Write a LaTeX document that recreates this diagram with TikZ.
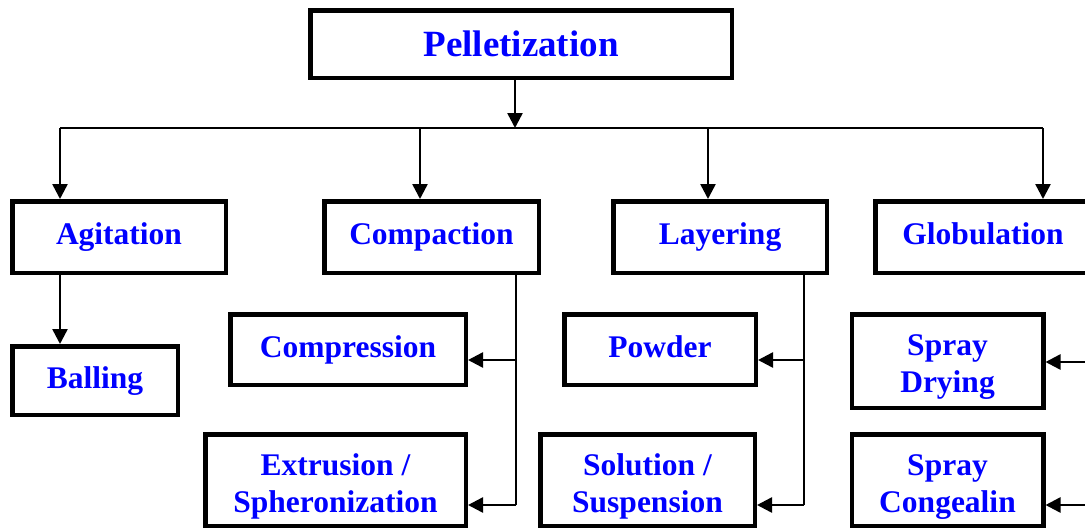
\documentclass[tikz,border=0pt]{standalone}
\usepackage{fontspec}
\setmainfont{Liberation Serif}
\usetikzlibrary{arrows.meta}
\definecolor{txtblue}{RGB}{0,0,255}
\begin{document}
\begin{tikzpicture}[x=1pt,y=-1pt,
  box/.style={draw=black, line width=4.5pt, fill=white, text=txtblue,
    font=\fontsize{31.5}{37}\selectfont\bfseries, align=center, inner sep=0pt},
  oneline/.style={text height=22pt, text depth=7pt},
  twoline/.style={text height=72pt, text depth=7pt},
  conn/.style={line width=2.5pt},
  arr/.style={conn, -{Triangle[length=15pt,width=15pt]}}]
\useasboundingbox (0,0) rectangle (1085,531);
% boxes
\node[box, minimum width=421.5pt, minimum height=67.5pt, font=\fontsize{37}{42}\selectfont\bfseries] (pel) at (521,44) {Pelletization};
\node[box, oneline, minimum width=213.5pt, minimum height=71.5pt] (agit) at (119,237) {Agitation};
\node[box, oneline, minimum width=214.5pt, minimum height=71.5pt] (comp) at (431.5,237) {Compaction};
\node[box, oneline, minimum width=213.5pt, minimum height=71.5pt] (layer) at (720,237) {Layering};
\node[box, oneline, minimum width=215.5pt, minimum height=71.5pt] (glob) at (983,237) {Globulation};
\node[box, oneline, minimum width=165.5pt, minimum height=68.5pt] (ball) at (95,380.5) {Balling};
\node[box, oneline, minimum width=235.5pt, minimum height=70.5pt] (compr) at (348,349.5) {Compression};
\node[box, twoline, minimum width=260.5pt, minimum height=91.5pt] (extr) at (335.5,480) {Extrusion /\\Spheronization};
\node[box, oneline, minimum width=191.5pt, minimum height=70.5pt] (powd) at (660,349.5) {Powder};
\node[box, twoline, minimum width=214.5pt, minimum height=91.5pt] (sol) at (647.5,480) {Solution /\\Suspension};
\node[box, twoline, text height=70pt, minimum width=191.5pt, minimum height=93.5pt] (sd) at (947.5,361) {Spray\\Drying};
\node[box, twoline, minimum width=191.5pt, minimum height=91.5pt] (sc) at (947.5,480) {Spray\\Congealin};
% trunk
\coordinate (t) at (515,128);
\coordinate (j1) at (60,128);
\coordinate (j2) at (420,128);
\coordinate (j3) at (708,128);
\coordinate (j4) at (1043,128);
\draw[arr] (pel.south -| t) -- (t);
\draw[conn] (j1) -- (j4);
\draw[arr] (j1) -- (j1 |- agit.north);
\draw[arr] (j2) -- (j2 |- comp.north);
\draw[arr] (j3) -- (j3 |- layer.north);
\draw[arr] (j4) -- (j4 |- glob.north);
% agitation
\draw[arr] (agit.south -| j1) -- (ball.north -| j1);
% compaction
\coordinate (c1) at (516,360);
\coordinate (c2) at (516,505);
\draw[conn] (comp.south -| c1) -- (c2);
\draw[arr] (c1) -- (c1 -| compr.east);
\draw[arr] (c2) -- (c2 -| extr.east);
% layering
\coordinate (l1) at (804,360);
\coordinate (l2) at (804,505);
\draw[conn] (layer.south -| l1) -- (l2);
\draw[arr] (l1) -- (l1 -| powd.east);
\draw[arr] (l2) -- (l2 -| sol.east);
% globulation
\coordinate (g1) at (1100,362);
\coordinate (g2) at (1100,505);
\draw[conn] (glob.south -| g1) -- (g2);
\draw[arr] (g1) -- (g1 -| sd.east);
\draw[arr] (g2) -- (g2 -| sc.east);
\end{tikzpicture}
\end{document}
